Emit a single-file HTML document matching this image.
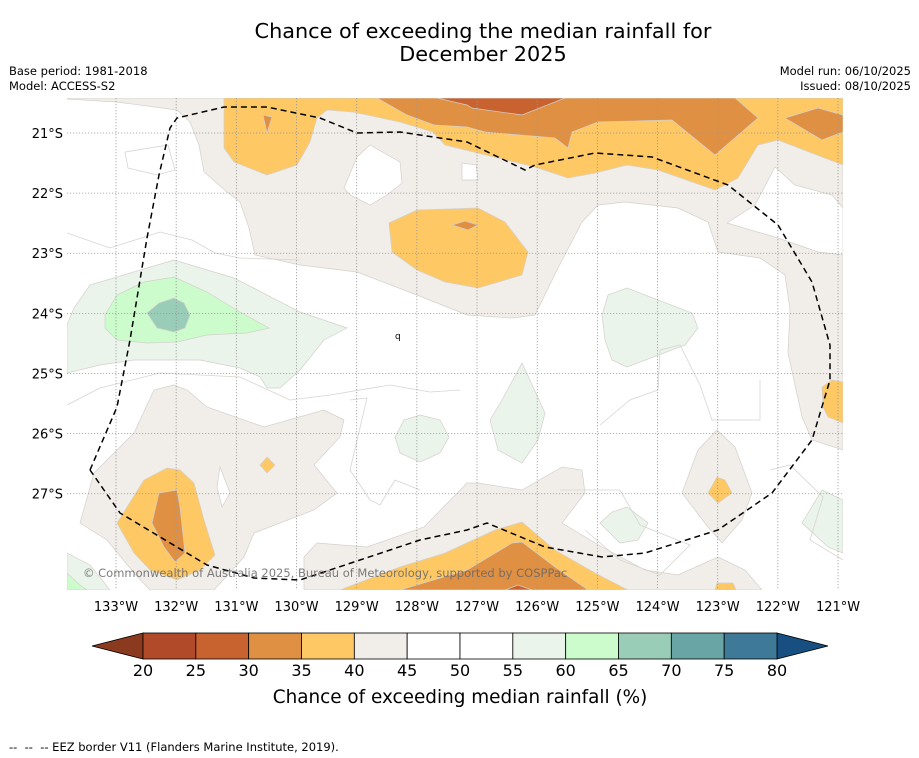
<!DOCTYPE html>
<html><head><meta charset="utf-8"><style>
html,body{margin:0;padding:0;background:#fff;}
svg{display:block;font-family:"DejaVu Sans","Liberation Sans",sans-serif;}
</style></head><body>
<svg id="root" width="919" height="758" viewBox="0 0 919 758" xmlns="http://www.w3.org/2000/svg">
<rect width="919" height="758" fill="#fff"/>
<text x="483" y="38" font-size="20.8" text-anchor="middle">Chance of exceeding the median rainfall for</text>
<text x="483" y="61" font-size="20.8" text-anchor="middle">December 2025</text>
<text x="9" y="75" font-size="11.5">Base period: 1981-2018</text>
<text x="9" y="90" font-size="11.5">Model: ACCESS-S2</text>
<text x="911" y="75" font-size="11.5" text-anchor="end">Model run: 06/10/2025</text>
<text x="911" y="90" font-size="11.5" text-anchor="end">Issued: 08/10/2025</text>

<defs><clipPath id="mapclip"><rect x="67" y="98" width="776" height="492"/></clipPath></defs>
<g clip-path="url(#mapclip)">
<g stroke="#d4d0cc" stroke-width="0.7">
<polygon fill="#f1ede8" points="67,98 67,99 117,102 177,110 190,122 199,145 204,172 227,192 240,202 249,228 255,255 300,265 357,272 417,295 467,315 512,318 535,315 558,268 582,222 598,205 625,202 678,208 708,222 718,252 760,258 785,275 790,310 788,353 802,417 812,440 843,450 843,98"/>
<polygon fill="#fff" points="727,223 755,205 775,167 795,185 832,195 843,208 843,255 818,252 778,238"/>
<polygon fill="#fff" points="344,188 357,157 370,145 400,162 402,183 387,195 370,205 350,195"/>
<polygon fill="#fff" points="462,163 476,165 478,180 462,180"/>
<polygon fill="#f1ede8" points="80,523 94,473 104,463 134,433 154,390 174,385 187,390 207,407 264,427 324,410 344,420 340,437 314,465 337,493 314,510 254,533 244,557 214,590 150,590 134,573 107,540"/>
<polygon fill="#fff" points="220,467 230,493 222,507 217,487"/>
<polygon fill="#f1ede8" points="304,590 304,557 317,543 367,547 424,527 467,483 478,483 522,490 562,467 582,470 585,493 562,523 602,547 645,570 678,575 718,557 745,570 762,590"/>
<polygon fill="#f1ede8" points="682,493 698,450 717,430 735,447 752,493 742,520 722,543 708,527"/>
<polygon fill="#fec864" points="224,98 224,148 234,162 267,175 297,165 310,142 317,118 327,110 353,112 400,122 433,132 445,145 535,167 568,178 595,173 627,165 658,170 715,190 738,178 758,145 778,140 843,165 843,98"/>
<polygon fill="#fec864" points="389,223 417,210 478,208 505,222 528,252 522,275 478,288 445,282 417,270 392,252"/>
<polygon fill="#fec864" points="117,523 144,480 167,468 180,470 194,483 204,520 215,555 200,570 177,580 150,570 134,553"/>
<polygon fill="#fec864" points="260,465 267,457 275,465 267,473"/>
<polygon fill="#fec864" points="340,590 400,567 445,553 495,530 522,522 555,550 595,573 628,590"/>
<polygon fill="#fec864" points="708,493 717,477 725,480 732,493 718,503"/>
<polygon fill="#fec864" points="822,387 832,380 843,382 843,423 828,417 823,407"/>
<polygon fill="#fec864" points="715,590 717,583 733,583 736,590"/>
<polygon fill="#e09042" points="377,98 407,115 434,125 467,127 485,132 555,138 568,148 572,132 598,122 672,120 715,155 758,118 735,98"/>
<polygon fill="#e09042" points="785,118 818,108 843,115 843,132 822,140"/>
<polygon fill="#e09042" points="263,115 272,117 267,133"/>
<polygon fill="#e09042" points="452,225 465,221 478,225 468,230"/>
<polygon fill="#e09042" points="159,493 177,490 180,507 185,553 175,562 164,547 152,523"/>
<polygon fill="#e09042" points="400,590 467,570 512,543 522,542 555,567 588,590"/>
<polygon fill="#c8622f" points="437,98 467,105 472,108 522,115 565,98"/>
<polygon fill="#c8622f" points="505,590 518,585 532,590"/>
<polygon fill="#eaf4ea" points="67,373 67,325 74,308 90,285 117,277 174,260 234,278 300,312 347,328 324,340 300,370 280,388 267,388 260,377 240,368 200,360 134,360 100,365"/>
<polygon fill="#ccfccc" points="105,315 117,295 144,282 174,277 207,292 240,312 269,328 247,333 207,335 177,342 147,343 117,340 105,328"/>
<polygon fill="#99cdb7" points="147,313 159,303 174,298 184,303 190,315 185,328 174,332 157,328"/>
<polygon fill="#eaf4ea" points="602,315 608,295 627,288 692,313 698,328 685,345 627,367 612,360 605,340"/>
<polygon fill="#eaf4ea" points="490,420 502,400 522,363 545,413 538,440 522,463 498,450"/>
<polygon fill="#eaf4ea" points="395,437 404,420 420,415 440,420 449,437 440,453 420,462 400,453"/>
<polygon fill="#eaf4ea" points="600,523 612,512 627,507 648,523 638,540 620,543"/>
<polygon fill="#eaf4ea" points="802,523 822,490 843,500 843,553 828,547"/>
<polygon fill="#eaf4ea" points="67,553 90,565 110,590 67,590"/>
<polygon fill="#ccfccc" points="67,573 80,585 87,590 67,590"/>
</g>
<g fill="none" stroke="#d8d4d0" stroke-width="0.8">
<polyline points="125,152 168,145 175,170 157,175 128,168 125,152"/>
<polyline points="67,233 110,248 160,232 192,240 215,253 240,258 300,260"/>
<polyline points="67,405 100,388 160,373 240,377 290,400 330,395 390,385 430,392 460,390"/>
<polyline points="350,400 367,398 350,470 370,500 380,505 395,480 420,490"/>
<polyline points="600,425 630,400 658,390 660,350 680,345 700,385 712,420 760,420 760,380"/>
<polyline points="560,490 620,490 640,525 690,545 660,575 620,560 585,530"/>
<polyline points="770,470 790,465 823,497 810,540 843,560"/>
</g>
<g stroke="#999" stroke-width="0.8" stroke-dasharray="1.2,1.8" id="gridlines"></g>
<polyline fill="none" stroke="#000" stroke-width="1.5" stroke-dasharray="6,4" points="90,470 117,407 130,340 147,238 159,175 170,128 177,118 224,107 267,107 320,118 357,133 400,132 467,142 525,170 535,165 595,153 652,157 728,185 778,225 812,282 830,345 830,380 812,440 772,493 718,530 645,553 602,557 545,547 487,523 467,530 420,540 300,580 254,578 207,565 120,513 90,470"/>
<text x="395" y="339" font-size="9">q</text>
<text x="83" y="577" font-size="11.5" fill="#666" fill-opacity="0.85">© Commonwealth of Australia 2025, Bureau of Meteorology, supported by COSPPac</text>
</g>
<g id="lat-labels" font-size="13" text-anchor="end"></g>
<g id="lon-labels" font-size="13" text-anchor="middle"></g>
<g id="colorbar"></g>
<text x="460" y="703" font-size="18.4" text-anchor="middle">Chance of exceeding median rainfall (%)</text>
<text x="9" y="751" font-size="11.5" xml:space="preserve" style="white-space:pre">--  --  -- EEZ border V11 (Flanders Marine Institute, 2019).</text>
</svg>
<script>
const lonTicks = [133,132,131,130,129,128,127,126,125,124,123,122,121];
const latTicks = [21,22,23,24,25,26,27];
const levels = [20,25,30,35,40,45,50,55,60,65,70,75,80];
const levelColors = ["#b04a28","#c8622f","#e09042","#fec864","#f1ede8","#ffffff","#ffffff","#eaf4ea","#ccfccc","#99cdb7","#6aa5a6","#3e7a97"];
const underColor = "#8b3a1f";
const overColor = "#164f80";
const NS = "http://www.w3.org/2000/svg";
const xLon = lon => 116 + (133 - lon) * 60.17;
const yLat = lat => 133 + (lat - 21) * 60.12;
function mk(tag, attrs, parent, txt){const e=document.createElementNS(NS,tag);for(const k in attrs)e.setAttribute(k,attrs[k]);if(txt!==undefined)e.textContent=txt;parent.appendChild(e);return e;}
const grid=document.getElementById('gridlines');
const latG=document.getElementById('lat-labels');
const lonG=document.getElementById('lon-labels');
lonTicks.forEach(l=>{
  const x=xLon(l);
  const g=mk('line',{x1:x,x2:x,y1:98,y2:590},grid);
  
  
  const t=mk('text',{x:x,y:611},lonG,l+'°W');
  
  
});
latTicks.forEach(l=>{
  const y=yLat(l);
  const g=mk('line',{x1:67,x2:843,y1:y,y2:y},grid);
  
  
  const t=mk('text',{x:63,y:y+5},latG,l+'°S');
  
  
});
const cb=document.getElementById('colorbar');
const cbX0=143, cbX1=777, cbY=633, cbH=26;
const cx = v => cbX0 + (v - levels[0]) / (levels[levels.length-1]-levels[0]) * (cbX1-cbX0);
const lt=mk('polygon',{points:`${cbX0},${cbY} 92,${cbY+cbH/2} ${cbX0},${cbY+cbH}`,fill:underColor,stroke:'#000','stroke-width':0.8},cb);


const rt=mk('polygon',{points:`${cbX1},${cbY} 828,${cbY+cbH/2} ${cbX1},${cbY+cbH}`,fill:overColor,stroke:'#000','stroke-width':0.8},cb);


levelColors.forEach((c,i)=>{
  const r=mk('rect',{x:cx(levels[i]),y:cbY,width:cx(levels[i+1])-cx(levels[i]),height:cbH,fill:c,stroke:'#000','stroke-width':0.8},cb);
  
  
});
levels.forEach(v=>{
  const t=mk('text',{x:cx(v),y:676,'font-size':16,'text-anchor':'middle'},cb,String(v));
  
  
});
</script>
</body></html>
